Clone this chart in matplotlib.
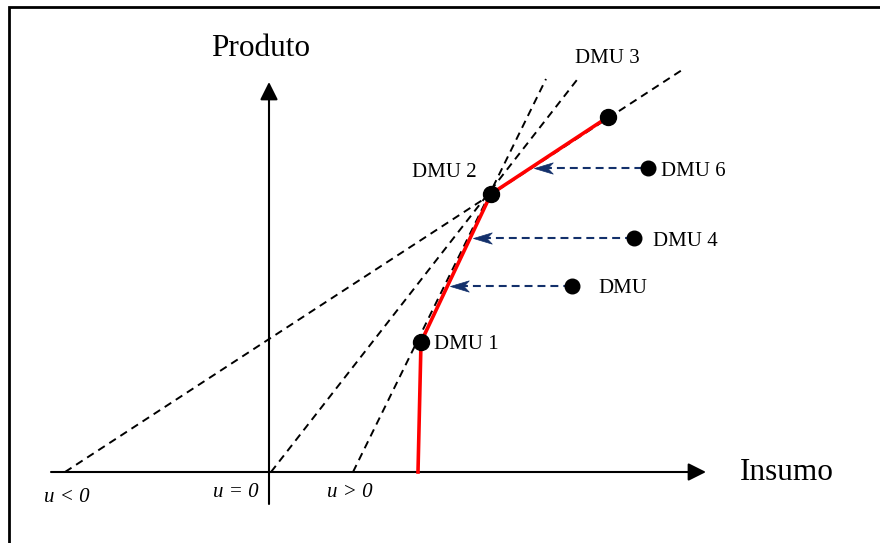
import numpy as np
import matplotlib.pyplot as plt
from matplotlib.path import Path

# diagram coordinates: origin where the two axes cross, 1 unit = 1 pixel
frontier_x = [149, 152, 222, 339]      # red frontier: foot, DMU 1, DMU 2, DMU 3
frontier_y = [0, 130, 278, 355]

eff_names = ['DMU 1', 'DMU 2', 'DMU 3']
eff_x = [152, 222, 339]
eff_y = [130, 278, 355]

ineff_names = ['DMU 6', 'DMU 4', 'DMU']
ineff_x = [379, 365, 303]
ineff_y = [304, 234, 186]

# dashed supporting lines: (start on axis, end point)
ray_names = ['u < 0', 'u = 0', 'u > 0']
ray_x0 = [-204, 2, 84]
ray_x1 = [413, 311, 277]
ray_y1 = [402, 396, 393]

FONT = 'Liberation Serif'
NAVY = '#13306b'

fig = plt.figure(figsize=(8.8, 5.43), dpi=100)
ax = fig.add_axes([0, 0, 1, 1])
ax.set_xlim(-269, 611)
ax.set_ylim(-71, 472)
ax.axis('off')

# frame (only top and left edges visible)
ax.plot([-260, -260, 611], [-71, 465, 465], color='black', lw=2, solid_joinstyle='miter')

# axes with arrows
ax.annotate('', xy=(437, 0), xytext=(-218, 0),
            arrowprops=dict(arrowstyle='-|>,head_length=0.6,head_width=0.3',
                            color='black', lw=1.5, mutation_scale=18, shrinkA=0, shrinkB=0))
ax.annotate('', xy=(0, 390), xytext=(0, -32),
            arrowprops=dict(arrowstyle='-|>,head_length=0.6,head_width=0.3',
                            color='black', lw=1.5, mutation_scale=18, shrinkA=0, shrinkB=0))

# dashed rays
for x0, x1, y1 in zip(ray_x0, ray_x1, ray_y1):
    ax.plot([x0, x1], [0, y1], color='black', lw=1.4, ls=(0, (4, 2.8)))

# frontier
ax.plot(frontier_x, frontier_y, color='red', lw=2.6, zorder=3)

# projections onto the frontier
head = Path([(0, 0), (1, 0.3), (0.72, 0), (1, -0.3), (0, 0)],
            [Path.MOVETO, Path.LINETO, Path.LINETO, Path.LINETO, Path.CLOSEPOLY])
for x, y in zip(ineff_x, ineff_y):
    tx = np.interp(y, frontier_y, frontier_x) + 3
    ax.plot([tx + 10, x], [y, y], color=NAVY, lw=1.5, ls=(0, (3.8, 2.4)), zorder=2)
    ax.plot([tx], [y], marker=head, ms=27, color=NAVY, mec=NAVY, mew=0.5, zorder=4)

ax.plot(eff_x, eff_y, 'o', color='black', ms=11.5, mec='black', zorder=5)
ax.plot(ineff_x, ineff_y, 'o', color='black', ms=10.5, mec='black', zorder=5)

# labels
label_pos = {'DMU 1': (165, 123), 'DMU 2': (143, 295), 'DMU 3': (306, 409),
             'DMU 6': (392, 296), 'DMU 4': (384, 226), 'DMU': (329, 179)}
for name in eff_names + ineff_names:
    lx, ly = label_pos[name]
    ax.text(lx, ly, name, fontsize=15, family=FONT, ha='left', va='baseline')

ray_label_pos = [(-225, -30), (-56, -25), (58, -25)]
for name, (lx, ly) in zip(ray_names, ray_label_pos):
    ax.text(lx, ly, name, fontsize=15, family=FONT, style='italic', ha='left', va='baseline')

ax.text(-8, 416, 'Produto', fontsize=22.5, family=FONT, ha='center', va='baseline')
ax.text(471, -8, 'Insumo', fontsize=22.5, family=FONT, ha='left', va='baseline')

fig.savefig('out.png', dpi=100)
